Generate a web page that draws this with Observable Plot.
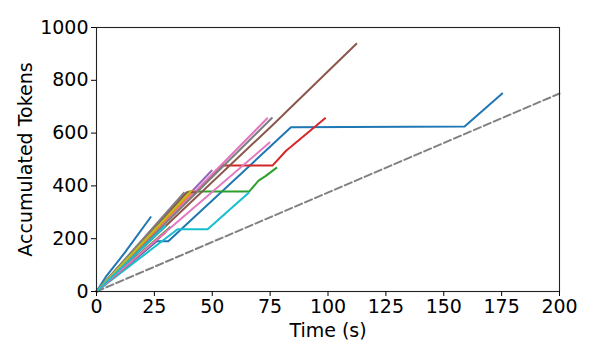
<!DOCTYPE html>
<html>
<head>
<meta charset="utf-8">
<script src="https://cdn.jsdelivr.net/npm/d3@7"></script>
<script src="https://cdn.jsdelivr.net/npm/@observablehq/plot@0.6"></script>
<style>
  html, body { margin: 0; padding: 0; background: #fff; }
</style>
</head>
<body>
<div id="chart"></div>
<script>
// Per-run cumulative token traces (time in seconds, accumulated tokens)
const runTimes = [
  [0, 26, 31, 84, 159, 175.5],
  [0, 55],
  [0, 40, 66, 70, 73, 78],
  [0, 54, 76, 82, 84, 99],
  [0, 50],
  [0, 76, 112.5],
  [0, 74],
  [0, 76],
  [0, 40],
  [0, 35, 48, 66],
  [0, 4, 12.3, 23.6],
  [0, 42],
  [0, 32],
  [0, 30],
  [0, 38],
  [0, 39, 43],
  [0, 75],
  [0, 38],
  [0, 41],
  [0, 30]
];
const runTokens = [
  [0, 190, 190, 622, 625, 752],
  [0, 485],
  [0, 379, 379, 420, 437, 470],
  [0, 477, 477, 534, 548, 658],
  [0, 460],
  [0, 630, 940],
  [0, 658],
  [0, 659],
  [0, 380],
  [0, 236, 236, 376],
  [0, 55, 148, 284],
  [0, 384],
  [0, 245],
  [0, 225],
  [0, 372],
  [0, 376, 376],
  [0, 566],
  [0, 376],
  [0, 382],
  [0, 250]
];
// Reference rate line
const refTimes = [0, 200];
const refTokens = [0, 750];

const xTicks = [0, 25, 50, 75, 100, 125, 150, 175, 200];
const yTicks = [0, 200, 400, 600, 800, 1000];

const tab10 = ["#1f77b4","#ff7f0e","#2ca02c","#d62728","#9467bd","#8c564b","#e377c2","#7f7f7f","#bcbd22","#17becf"];

const rows = [];
runTimes.forEach((ts, i) => ts.forEach((t, j) => rows.push({run: i, t, v: runTokens[i][j]})));
const refRows = refTimes.map((t, j) => ({t, v: refTokens[j]}));

const runIds = runTimes.map((_, i) => i);

const chart = Plot.plot({
  width: 598,
  height: 359,
  marginLeft: 96,
  marginRight: 39,
  marginTop: 27,
  marginBottom: 68,
  style: {fontFamily: "DejaVu Sans", fontSize: "19px", color: "black", background: "white", overflow: "visible"},
  x: {domain: [0, 200]},
  y: {domain: [0, 1000]},
  color: {type: "ordinal", domain: runIds, range: runIds.map(i => tab10[i % 10])},
  marks: [
    Plot.line(refRows, {x: "t", y: "v", stroke: "#808080", strokeWidth: 2, strokeDasharray: "7.5,3.3"}),
    Plot.line(rows, {x: "t", y: "v", z: "run", stroke: "run", strokeWidth: 2, strokeLinejoin: "round", strokeLinecap: "butt", curve: "linear"}),
    Plot.frame({stroke: "#222", strokeWidth: 1.1}),
    Plot.axisX({ticks: xTicks, tickFormat: d => String(d), tickSize: 5, tickPadding: 3, fontSize: 19, label: null}),
    Plot.axisX({ticks: [], label: "Time (s)", labelAnchor: "center", labelArrow: "none", labelOffset: 45, fontSize: 19}),
    Plot.axisY({ticks: yTicks, tickFormat: d => String(d), tickSize: 5, tickPadding: 3, fontSize: 19, label: null}),
    Plot.axisY({ticks: [], label: "Accumulated Tokens", labelAnchor: "center", labelArrow: "none", labelOffset: 78, fontSize: 19})
  ]
});
document.getElementById("chart").appendChild(chart);
</script>
</body>
</html>
